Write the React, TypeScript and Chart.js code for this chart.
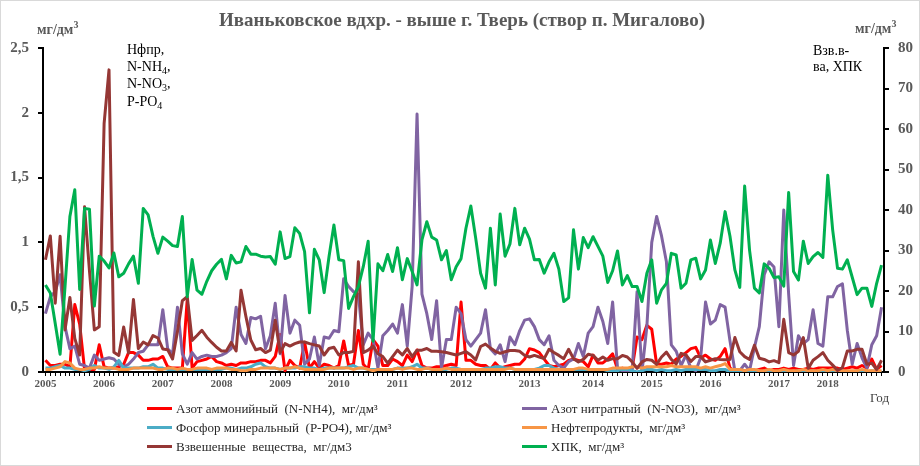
import { useEffect, useRef } from 'react'
import Chart from 'chart.js/auto'

const FONT = "'Liberation Serif', 'Times New Roman', serif"

// year labels and the sample index where each year starts
const YEARS = ['2005', '2006', '2007', '2008', '2009', '2010', '2011', '2012', '2013', '2014', '2015', '2016', '2017', '2018']
const YEAR_START = [0, 12, 24, 36, 48, 60, 72, 85, 99, 112, 124, 136, 150, 160]

// left axis, mg/dm3
const NH4 = [
  0.09, 0.05, 0.05, 0.06, 0.06, 0.04, 0.52, 0.37, 0.02, 0.02,
  0.02, 0.21, 0.04, 0.03, 0.03, 0.04, 0.06, 0.15, 0.15, 0.13,
  0.09, 0.09, 0.1, 0.1, 0.12, 0.04, 0.03, 0.03, 0.03, 0.56,
  0.03, 0.08, 0.09, 0.1, 0.12, 0.08, 0.07, 0.05, 0.06, 0.05,
  0.07, 0.07, 0.08, 0.08, 0.09, 0.09, 0.07, 0.12, 0.29, 0.01,
  0.09, 0.05, 0.03, 0.23, 0.03, 0.08, 0.03, 0.06, 0.05, 0.03,
  0.05, 0.24, 0.05, 0.06, 0.32, 0.06, 0.02, 0.25, 0.2, 0.05,
  0.05, 0.1, 0.08, 0.05, 0.13, 0.08, 0.17, 0.05, 0.03, 0.03,
  0.04, 0.04, 0.05, 0.06, 0.05, 0.54, 0.09, 0.09, 0.06, 0.05,
  0.05, 0.02, 0.07, 0.03, 0.04, 0.05, 0.06, 0.06, 0.1, 0.18,
  0.17, 0.15, 0.1, 0.05, 0.04, 0.05, 0.06, 0.09, 0.1, 0.09,
  0.08, 0.04, 0.13, 0.07, 0.07, 0.1, 0.14, 0.02, 0.03, 0.02,
  0.03, 0.27, 0.25, 0.36, 0.33, 0.06, 0.06, 0.07, 0.06, 0.1,
  0.12, 0.15, 0.18, 0.19, 0.11, 0.13, 0.1, 0.09, 0.12, 0.18,
  0.03, 0.01, 0.02, 0.01, 0, 0.01, 0.02, 0.03, 0.01, 0.02,
  0.02, 0.03, 0.02, 0.03, 0.02, 0.02, 0.03, 0.02, 0.03, 0.03,
  0.03, 0.03, 0.03, 0.02, 0.03, 0.04, 0.03, 0.05, 0.03, 0.1,
  0.02, 0.05,
]
const NO3 = [
  0.45, 0.58, 0.62, 0.75, 0.35, 0.18, 0.2, 0.06, 0.05, 0.03,
  0.13, 0.09, 0.1, 0.11, 0.1, 0.06, 0.04, 0.06, 0.1, 0.15,
  0.16, 0.21, 0.21, 0.21, 0.48, 0.18, 0.14, 0.5, 0.14, 0.06,
  0.15, 0.1, 0.12, 0.13, 0.12, 0.12, 0.13, 0.15, 0.18, 0.5,
  0.29, 0.22, 0.42, 0.41, 0.43, 0.18, 0.28, 0.53, 0.14, 0.59,
  0.3, 0.4, 0.36, 0.06, 0.1, 0.27, 0.05, 0.27, 0.26, 0.32,
  0.31, 0.72, 0.66, 0.62, 0.6, 0.21, 0.3, 0.25, 0.03, 0.28,
  0.32, 0.37, 0.3, 0.52, 0.2, 0.66, 1.99, 0.6, 0.45, 0.25,
  0.55, 0.03, 0.25, 0.25, 0.5, 0.45, 0.25, 0.2, 0.25, 0.3,
  0.48, 0.18, 0.14, 0.21, 0.08, 0.27, 0.21, 0.32, 0.4, 0.41,
  0.35, 0.25, 0.21, 0.28, 0.09, 0.05, 0.03, 0.08, 0.1, 0.22,
  0.12, 0.3, 0.35, 0.5, 0.39, 0.22, 0.54, 0.03, 0.01, 0.01,
  0.01, 0.62, 0, 0.35, 1, 1.2, 1.05, 0.85, 0.21, 0.16,
  0.05, 0.13, 0.03, 0.01, 0.11, 0.54, 0.37, 0.4, 0.52, 0.5,
  0.24, 0.01, 0.01, 0.06, 0.01, 0.19, 0.35, 0.75, 0.85, 0.81,
  0.35, 1.25, 0.6, 0.05, 0.28, 0.22, 0.25, 0.48, 0.22, 0.2,
  0.58, 0.58, 0.66, 0.68, 0.32, 0.06, 0.22, 0.11, 0.03, 0.21,
  0.28, 0.5,
]
const PO4 = [
  0.03, 0.03, 0.04, 0.05, 0.03, 0.03, 0.02, 0.02, 0.01, 0.02,
  0.05, 0.03, 0.03, 0.02, 0.04, 0.09, 0.03, 0.03, 0.03, 0.03,
  0.04, 0.04, 0.06, 0.03, 0.03, 0.02, 0.02, 0.02, 0.02, 0.02,
  0.02, 0.02, 0.02, 0.02, 0.02, 0.02, 0.02, 0.03, 0.03, 0.02,
  0.03, 0.03, 0.04, 0.06, 0.07, 0.04, 0.03, 0.03, 0.02, 0.03,
  0.03, 0.03, 0.04, 0.04, 0.03, 0.03, 0.02, 0.03, 0.03, 0.03,
  0.03, 0.03, 0.04, 0.05, 0.03, 0.03, 0.02, 0.02, 0.02, 0.02,
  0.02, 0.02, 0.03, 0.03, 0.03, 0.04, 0.06, 0.03, 0.03, 0.02,
  0.02, 0.02, 0.02, 0.03, 0.03, 0.02, 0.02, 0.02, 0.02, 0.02,
  0.03, 0.03, 0.04, 0.04, 0.03, 0.03, 0.02, 0.02, 0.02, 0.02,
  0.02, 0.03, 0.05, 0.05, 0.03, 0.02, 0.02, 0.02, 0.02, 0.02,
  0.02, 0.02, 0.02, 0.02, 0.02, 0.01, 0.01, 0.01, 0.02, 0.02,
  0.01, 0, 0.01, 0.02, 0.02, 0.01, 0.02, 0.01, 0.01, 0.02,
  0.01, 0.02, 0.02, 0.02, 0.02, 0.02, 0.01, 0.01, 0.02, 0.02,
  0, 0, 0.01, 0, 0, 0.01, 0, 0, 0.01, 0,
  0, 0.01, 0, 0, 0.01, 0, 0, 0.01, 0, 0,
  0.01, 0, 0, 0.01, 0, 0, 0.01, 0, 0, 0.01,
  0, 0,
]
const OIL = [
  0.02, 0.02, 0.03, 0.04, 0.08, 0.07, 0.03, 0.02, 0.02, 0.03,
  0.03, 0.04, 0.03, 0.03, 0.03, 0.02, 0.02, 0.02, 0.03, 0.03,
  0.03, 0.03, 0.03, 0.02, 0.02, 0.03, 0.03, 0.02, 0.03, 0.02,
  0.02, 0.03, 0.03, 0.03, 0.02, 0.03, 0.03, 0.03, 0.02, 0.02,
  0.01, 0.01, 0.02, 0.02, 0.03, 0.03, 0.03, 0.03, 0.02, 0.03,
  0.03, 0.04, 0.03, 0.02, 0.02, 0.02, 0.02, 0.02, 0.03, 0.03,
  0.03, 0.03, 0.03, 0.02, 0.03, 0.03, 0.02, 0.01, 0.02, 0.02,
  0.02, 0.02, 0.03, 0.02, 0.03, 0.03, 0.02, 0.02, 0.03, 0.02,
  0.02, 0.02, 0.03, 0.02, 0.02, 0.02, 0.02, 0.02, 0.02, 0.02,
  0.02, 0.02, 0.02, 0.02, 0.02, 0.03, 0.02, 0.02, 0.02, 0.02,
  0.02, 0.02, 0.02, 0.02, 0.02, 0.02, 0.02, 0.02, 0.02, 0.03,
  0.03, 0.02, 0.02, 0.02, 0.02, 0.02, 0.03, 0.03, 0.03, 0.03,
  0.04, 0.04, 0.03, 0.04, 0.04, 0.04, 0.04, 0.04, 0.05, 0.04,
  0.04, 0.04, 0.04, 0.04, 0.03, 0.04, 0.03, 0.04, 0.05, 0.065,
  0.02, 0.02, 0.02, 0.01, 0.02, 0.02, 0.01, 0.01, 0.02, 0.01,
  0.01, 0.02, 0.01, 0.01, 0.01, 0.02, 0.01, 0.01, 0.01, 0.02,
  0.01, 0.02, 0.01, 0.01, 0.01, 0.01, 0.01, 0.02, 0.01, 0.01,
  0.01, 0.01,
]

// right axis, mg/dm3
const SUSP = [
  27.7, 33.6, 17, 33.5, 10.4, 18.4, 8.3, 4.2, 40.8, 25,
  10.4, 11.2, 61.4, 74.6, 4.9, 4.1, 11.1, 4.7, 17.9, 5.8,
  7.4, 6.7, 9, 8.4, 5.7, 5.5, 3.2, 10, 17.6, 18.6,
  7.8, 9, 10.3, 8.6, 7.3, 6.1, 5.2, 5.2, 7.3, 5.2,
  20.2, 13.7, 7.9, 5.5, 5.8, 4.8, 5.4, 12.8, 4.8, 7,
  6.4, 7, 7.4, 7.4, 7, 6.7, 6.4, 4.2, 5.8, 6.1,
  4.2, 4.8, 4.8, 5.1, 27.2, 4.8, 5.4, 6.4, 4.5, 3.8,
  2.2, 3.8, 5.4, 4.2, 5.8, 3.8, 5.4, 5.4, 5.8, 5.1,
  5.1, 5, 4.8, 4.5, 4.2, 4.6, 5, 4.2, 3, 6.3,
  6.9, 5.9, 5.1, 4.6, 5, 5.3, 5.3, 5.1, 4.1, 3.7,
  4.1, 3.7, 3.3, 5.6, 4.8, 4.1, 3.3, 5.6, 3.3, 2.5,
  3.1, 4.4, 4.1, 2.9, 3.7, 2.9, 3.3, 3.3, 4.1, 3.7,
  2.5, 0.9, 2.5, 3.1, 2.9, 1.9, 3.7, 4.9, 3.1, 2,
  4.6, 4.2, 2.6, 3.8, 3.8, 2.5, 2.9, 3.3, 3.1, 3,
  3.1, 8.5, 5, 3.8, 3.1, 6.6, 3.4, 3.1, 2.5, 2.8,
  2.3, 13, 4.8, 4.2, 5.1, 8.5, 0.9, 2.9, 3.8, 4.8,
  2.9, 1.7, 0.4, 1.1, 5.2, 5.2, 5.6, 5.6, 1.9, 2.2,
  0.6, 2.9,
]
const COD = [
  21.5, 19.5, 12, 4.4, 21, 38.4, 45, 20.4, 40.4, 40.2,
  16.3, 28.6, 27.4, 25.7, 29.4, 23.5, 24.4, 26.7, 28.6, 21.9,
  40.4, 38.8, 33.5, 29.3, 33.3, 32.3, 31.2, 31, 38.4, 18.6,
  27.8, 20.2, 19.2, 22.4, 25, 26.6, 27.8, 23, 28.8, 26.9,
  27.2, 31, 29.1, 29.1, 28.6, 28.4, 28.5, 26.6, 34.6, 28,
  28.5, 35.6, 34.2, 29.7, 14.6, 30.3, 27.7, 19.6, 28.5, 36.3,
  27.7, 27.5, 15.7, 18.6, 21.1, 26, 32.3, 7.6, 26.7, 25,
  29, 24.8, 30.7, 22.8, 28, 24.8, 21.5, 32.6, 37.1, 33.3,
  32.6, 27.7, 30, 22.8, 26, 28, 35.5, 41, 33, 24.4,
  20.7, 35.5, 21.5, 39, 28.6, 31.6, 40.4, 31.4, 35.5, 32.8,
  27.7, 27.8, 24.4, 27.2, 29.3, 25.4, 17.4, 18.3, 35.1, 25.4,
  33.2, 30.7, 33.4, 31, 28.6, 22.1, 25, 29.9, 21.5, 23.8,
  21.1, 21.1, 17.4, 24.4, 27.7, 17, 20.3, 21.9, 29.3, 28.9,
  20.7, 21.9, 27.7, 28.1, 23, 25.2, 32.6, 26.8, 31.8, 39.6,
  33.5, 25.2, 20.9, 45.9, 30.1, 20.7, 19.5, 26.7, 25.6, 23.3,
  23.5, 21.2, 44.3, 24.8, 22.7, 32.3, 26.8, 28.5, 29.5, 28.3,
  48.6, 35.1, 25.6, 25.4, 27.7, 23.4, 19.1, 20.7, 20.7, 16.2,
  21.9, 26.4,
]

const LABELS = COD.map((_, i) => {
  const k = YEAR_START.indexOf(i)
  return k >= 0 ? YEARS[k] : ''
})

const SERIES = [
  { label: 'Азот аммонийный  (N-NH4),  мг/дм³', data: NH4, color: '#FF0000', axis: 'y' },
  { label: 'Азот нитратный  (N-NO3),  мг/дм³', data: NO3, color: '#8064A2', axis: 'y' },
  { label: 'Фосфор минеральный  (P-PO4), мг/дм³', data: PO4, color: '#4BACC6', axis: 'y' },
  { label: 'Нефтепродукты,  мг/дм³', data: OIL, color: '#F79646', axis: 'y' },
  { label: 'Взвешенные  вещества,  мг/дм3', data: SUSP, color: '#953735', axis: 'y1' },
  { label: 'ХПК,  мг/дм³', data: COD, color: '#00B050', axis: 'y1' },
]

const GRAY = '#595959'

export default function App() {
  const chartRef = useRef<HTMLCanvasElement>(null)
  const chartInstance = useRef<Chart | null>(null)

  useEffect(() => {
    if (!chartRef.current) return
    if (chartInstance.current) chartInstance.current.destroy()

    // chart.js draws dataset 0 on top, so reverse to get Excel order
    const datasets = [...SERIES].reverse().map(s => ({
      label: s.label,
      data: s.data,
      borderColor: s.color,
      backgroundColor: s.color,
      borderWidth: 3,
      pointRadius: 0,
      tension: 0,
      fill: false,
      borderJoinStyle: 'round' as const,
      yAxisID: s.axis,
    }))

    const yTicks = (size: number) => ({
      font: { family: FONT, size, weight: 'bold' as const },
      color: GRAY,
      padding: 9,
    })

    chartInstance.current = new Chart(chartRef.current, {
      type: 'line',
      data: { labels: LABELS, datasets },
      options: {
        responsive: false,
        animation: false,
        layout: { padding: { top: 48, left: 0, right: 0, bottom: 0 } },
        plugins: {
          legend: { display: false },
          tooltip: { enabled: false },
        },
        scales: {
          x: {
            type: 'category',
            offset: true,
            grid: { drawOnChartArea: false, drawTicks: true, tickLength: 4, color: '#000', lineWidth: 1 },
            border: { display: true, color: '#000', width: 2 },
            ticks: {
              autoSkip: false,
              maxRotation: 0,
              minRotation: 0,
              padding: 2,
              font: { family: FONT, size: 11, weight: 'bold' },
              color: GRAY,
            },
            afterFit: (s: any) => { s.height = 94 },
          },
          y: {
            position: 'left',
            min: 0,
            max: 2.5,
            grid: { drawOnChartArea: false, drawTicks: true, tickLength: 5, color: '#000', lineWidth: 2 },
            border: { display: true, color: '#000', width: 2 },
            ticks: {
              ...yTicks(15),
              stepSize: 0.5,
              callback: (v: any) => String(v).replace('.', ','),
            },
            afterFit: (s: any) => { s.width = 43 },
          },
          y1: {
            position: 'right',
            min: 0,
            max: 80,
            grid: { drawOnChartArea: false, drawTicks: true, tickLength: 5, color: '#000', lineWidth: 2 },
            border: { display: true, color: '#000', width: 2 },
            ticks: { ...yTicks(15), stepSize: 10 },
            afterFit: (s: any) => { s.width = 36 },
          },
        },
      },
    })

    return () => {
      if (chartInstance.current) {
        chartInstance.current.destroy()
        chartInstance.current = null
      }
    }
  }, [])

  const sub = { fontSize: 10, position: 'relative' as const, top: 3, verticalAlign: 'baseline' }
  const sup = { fontSize: 10, position: 'relative' as const, top: -6, verticalAlign: 'baseline' }
  const legendPos = [
    { left: 147, top: 399 }, { left: 522, top: 399 },
    { left: 147, top: 418 }, { left: 522, top: 418 },
    { left: 147, top: 437 }, { left: 522, top: 437 },
  ]

  return (
    <div style={{ position: 'absolute', left: 0, top: 0, width: 920, height: 466, background: '#fff', fontFamily: FONT }}>
      <canvas ref={chartRef} width={920} height={466} style={{ position: 'absolute', left: 0, top: 0 }} />

      <div style={{ position: 'absolute', left: 2, top: 9, width: 920, textAlign: 'center', fontSize: 19, fontWeight: 'bold', color: GRAY }}>
        Иваньковское вдхр. - выше г. Тверь (створ п. Мигалово)
      </div>

      <div style={{ position: 'absolute', left: 37, top: 22, fontSize: 14, fontWeight: 'bold', color: GRAY }}>
        мг/дм<span style={sup}>3</span>
      </div>
      <div style={{ position: 'absolute', left: 855, top: 21, fontSize: 14, fontWeight: 'bold', color: GRAY }}>
        мг/дм<span style={sup}>3</span>
      </div>

      <div style={{ position: 'absolute', left: 127, top: 42, fontSize: 14, lineHeight: '16.7px', color: '#000' }}>
        <div>Нфпр,</div>
        <div>N-NH<span style={sub}>4</span>,</div>
        <div>N-NO<span style={sub}>3</span>,</div>
        <div>P-PO<span style={sub}>4</span></div>
      </div>
      <div style={{ position: 'absolute', left: 813, top: 43, fontSize: 14, lineHeight: '16px', color: '#000' }}>
        <div>Взв.в-</div>
        <div>ва, ХПК</div>
      </div>

      <div style={{ position: 'absolute', left: 870, top: 390, fontSize: 13, color: '#404040' }}>Год</div>

      {SERIES.map((s, i) => (
        <div key={s.label} style={{ position: 'absolute', left: legendPos[i].left, top: legendPos[i].top, height: 19, display: 'flex', alignItems: 'center', gap: 4 }}>
          <div style={{ width: 25, height: 3, background: s.color }} />
          <span style={{ fontSize: 13, color: '#262626', whiteSpace: 'pre' }}>{s.label}</span>
        </div>
      ))}

      <div style={{ position: 'absolute', left: 0, top: 0, width: 920, height: 466, boxSizing: 'border-box', border: '1px solid #d9d9d9', pointerEvents: 'none' }} />
    </div>
  )
}
